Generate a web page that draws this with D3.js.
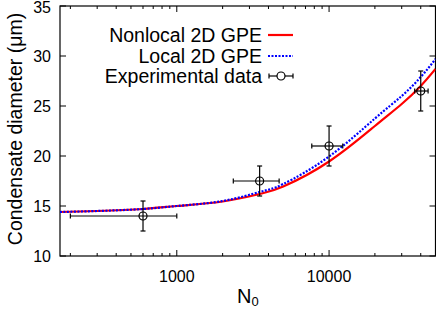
<!DOCTYPE html>
<html><head><meta charset="utf-8">
<script src="https://cdn.jsdelivr.net/npm/d3@7"></script>
<style>body{margin:0;background:#fff}svg{display:block}</style>
</head><body><div id="c"></div>
<script>
const W=436,H=309;
const xDomain=[171,50000];
const yDomain=[10,35];
const yTicks=[10,15,20,25,30,35];
const xTickLabels=[1000,10000];
const curveN=[171,300,600,1000,2000,3500,5000,10000,20000,30000,40000,50000];
const nonlocal=[14.4,14.5,14.7,15.0,15.45,16.2,16.95,19.45,23.0,25.2,27.0,28.7];
const local=[14.4,14.5,14.7,15.0,15.5,16.4,17.2,19.95,23.75,26.0,27.9,29.7];
const expN=[600,3500,10000,40000];
const expD=[14,17.5,21,26.5];
const expNlo=[200,2350,7700,36500];
const expNhi=[1000,4700,12300,44700];
const expDlo=[12.5,16,19,24.5];
const expDhi=[15.5,19,23,28.5];
const legendLabels=["Nonlocal 2D GPE","Local 2D GPE","Experimental data"];

const FONT='"Liberation Sans",Arial,Helvetica,sans-serif';
const L=60,R=435.5,T=6,B=256;
const x=d3.scaleLog().domain(xDomain).range([L,R]);
const y=d3.scaleLinear().domain(yDomain).range([B,T]);
const svg=d3.select("#c").append("svg").attr("width",W).attr("height",H).attr("font-family",FONT);

svg.append("rect").attr("x",L).attr("y",T).attr("width",R-L).attr("height",B-T).attr("fill","none").attr("stroke","#000").attr("stroke-width",1.2);

const xt=[];
for(let e=2;e<=4;e++)for(let m=1;m<=9;m++){const v=m*Math.pow(10,e);if(v>=xDomain[0]&&v<=xDomain[1])xt.push(v);}
xt.forEach(v=>{
  const len=(Math.abs(Math.log10(v)-Math.round(Math.log10(v)))<1e-9)?6:3;
  const px=x(v);
  svg.append("line").attr("x1",px).attr("x2",px).attr("y1",B).attr("y2",B-len).attr("stroke","#000");
  svg.append("line").attr("x1",px).attr("x2",px).attr("y1",T).attr("y2",T+len).attr("stroke","#000");
});
xTickLabels.forEach(v=>{
  svg.append("text").attr("x",x(v)).attr("y",282).attr("text-anchor","middle").attr("font-size",16).text(v);
});
yTicks.forEach(v=>{
  const py=y(v);
  svg.append("line").attr("x1",L).attr("x2",L+6).attr("y1",py).attr("y2",py).attr("stroke","#000");
  svg.append("line").attr("x1",R).attr("x2",R-6).attr("y1",py).attr("y2",py).attr("stroke","#000");
  svg.append("text").attr("x",L-9).attr("y",Math.max(py+6,13)).attr("text-anchor","end").attr("font-size",16).text(v);
});

const xt2=svg.append("text").attr("x",237).attr("y",303).attr("font-size",20);
xt2.append("tspan").text("N");
xt2.append("tspan").attr("font-size",13).attr("dy",3).text("0");
svg.append("text").attr("transform","translate(22,129) rotate(-90)").attr("text-anchor","middle").attr("font-size",19.5).text("Condensate diameter (\u03bcm)");

const line=d3.line().x(d=>x(d[0])).y(d=>y(d[1])).curve(d3.curveNatural);
svg.append("clipPath").attr("id","cp").append("rect").attr("x",L).attr("y",T).attr("width",R-L).attr("height",B-T);
svg.append("path").attr("clip-path","url(#cp)").attr("d",line(curveN.map((n,i)=>[n,nonlocal[i]]))).attr("fill","none").attr("stroke","#ff0000").attr("stroke-width",2.2);
svg.append("path").attr("clip-path","url(#cp)").attr("d",line(curveN.map((n,i)=>[n,local[i]]))).attr("fill","none").attr("stroke","#0000ff").attr("stroke-width",2.2).attr("stroke-dasharray","2,1.5");

function errPoint(g,cx,cy,x1,x2,y1,y2){
  g.append("line").attr("x1",x1).attr("x2",x2).attr("y1",cy).attr("y2",cy).attr("stroke","#000").attr("stroke-width",1.2);
  g.append("line").attr("x1",cx).attr("x2",cx).attr("y1",y1).attr("y2",y2).attr("stroke","#000").attr("stroke-width",1.2);
  [x1,x2].forEach(xx=>g.append("line").attr("x1",xx).attr("x2",xx).attr("y1",cy-2.5).attr("y2",cy+2.5).attr("stroke","#000").attr("stroke-width",1.2));
  [y1,y2].forEach(yy=>g.append("line").attr("x1",cx-2.5).attr("x2",cx+2.5).attr("y1",yy).attr("y2",yy).attr("stroke","#000").attr("stroke-width",1.2));
  g.append("circle").attr("cx",cx).attr("cy",cy).attr("r",4).attr("fill","none").attr("stroke","#000").attr("stroke-width",1.2);
}
const ge=svg.append("g");
expN.forEach((n,i)=>errPoint(ge,x(n),y(expD[i]),x(expNlo[i]),x(expNhi[i]),y(expDlo[i]),y(expDhi[i])));

const ly=[35,56,76];
legendLabels.forEach((t,i)=>{
  svg.append("text").attr("x",262).attr("y",ly[i]+7).attr("text-anchor","end").attr("font-size",19.5).text(t);
});
svg.append("line").attr("x1",268).attr("x2",293).attr("y1",ly[0]).attr("y2",ly[0]).attr("stroke","#ff0000").attr("stroke-width",2.2);
svg.append("line").attr("x1",268).attr("x2",293).attr("y1",ly[1]).attr("y2",ly[1]).attr("stroke","#0000ff").attr("stroke-width",2.2).attr("stroke-dasharray","2,1.5");
const lg=svg.append("g");
lg.append("line").attr("x1",269).attr("x2",293).attr("y1",ly[2]).attr("y2",ly[2]).attr("stroke","#000").attr("stroke-width",1.2);
[269,293].forEach(xx=>lg.append("line").attr("x1",xx).attr("x2",xx).attr("y1",ly[2]-2.5).attr("y2",ly[2]+2.5).attr("stroke","#000").attr("stroke-width",1.2));
lg.append("circle").attr("cx",281).attr("cy",ly[2]).attr("r",4).attr("fill","#fff").attr("stroke","#000").attr("stroke-width",1.2);
</script></body></html>
